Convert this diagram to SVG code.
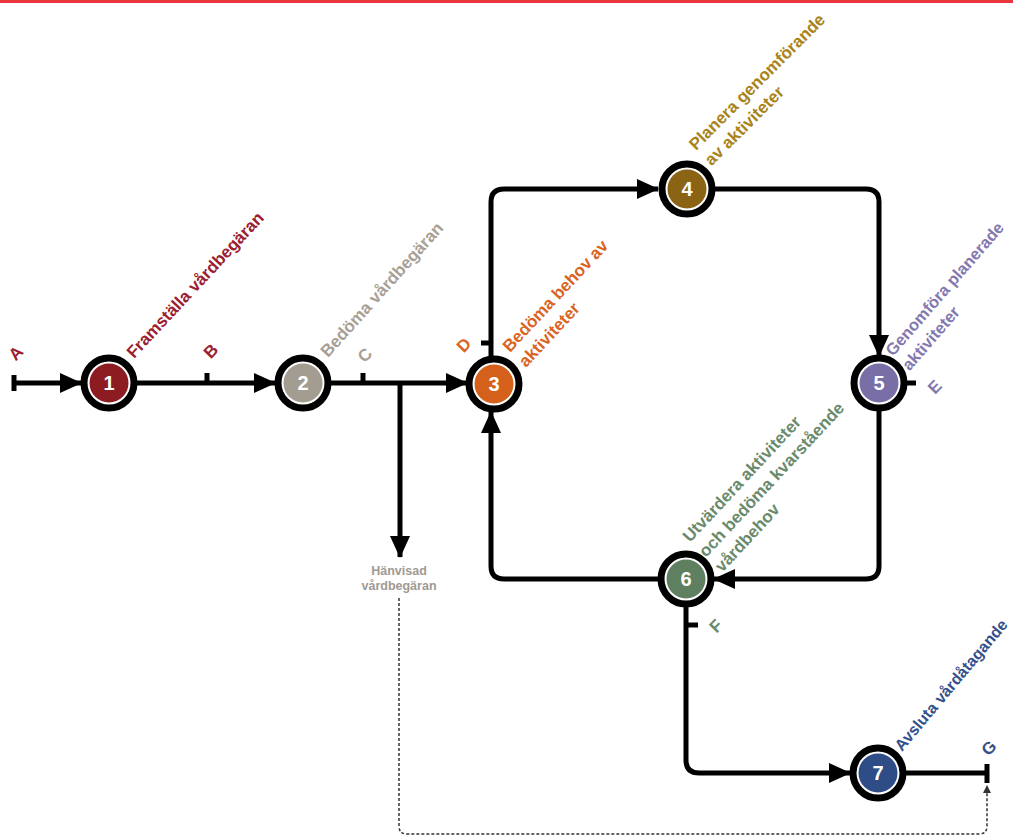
<svg xmlns="http://www.w3.org/2000/svg" width="1013" height="838" viewBox="0 0 1013 838">
<style>
.ln{fill:none;stroke:#000;stroke-width:5;stroke-linejoin:round}
.tk{fill:none;stroke:#000;stroke-width:5}
.ring{fill:#fff;stroke:#000;stroke-width:7}
.num{font-family:"Liberation Sans",Arial,sans-serif;font-weight:bold;font-size:20px;fill:#fff;text-anchor:middle}
.lab{font-family:"Liberation Sans",Arial,sans-serif;font-weight:bold;font-size:17px}
.let{font-family:"Liberation Sans",Arial,sans-serif;font-weight:bold;font-size:17px;text-anchor:middle}
.dot{fill:none;stroke:#333;stroke-width:1.5;stroke-dasharray:3 2}
</style>
<defs>
<marker id="ar" markerUnits="userSpaceOnUse" markerWidth="22" markerHeight="20" viewBox="0 0 22 20" refX="21" refY="10" orient="auto">
<path d="M0,0 L22,10 L0,20 Z" fill="#000"/>
</marker>
<marker id="ars" markerUnits="userSpaceOnUse" markerWidth="8" markerHeight="8" viewBox="0 0 8 8" refX="7" refY="4" orient="auto">
<path d="M0,0 L8,4 L0,8 Z" fill="#333"/>
</marker>
</defs>
<rect x="0" y="0" width="1013" height="3" fill="#e8363c"/>
<g id="connectors">
<path class="ln" d="M14,383 H81" marker-end="url(#ar)"/>
<path class="tk" d="M14,375 V391"/>
<path class="ln" d="M137,383 H275" marker-end="url(#ar)"/>
<path class="tk" d="M207,373 V383"/>
<path class="ln" d="M331,383 H467" marker-end="url(#ar)"/>
<path class="tk" d="M363,373 V383"/>
<path class="ln" d="M400,383 V557" marker-end="url(#ar)"/>
<path class="ln" d="M491,357 V202 Q491,189 504,189 H658" marker-end="url(#ar)"/>
<path class="tk" d="M481,343 H491"/>
<path class="ln" d="M715,189 H866 Q879,189 879,202 V356" marker-end="url(#ar)"/>
<path class="tk" d="M905,383 H916"/>
<path class="ln" d="M879,411 V566 Q879,579 866,579 H714" marker-end="url(#ar)"/>
<path class="ln" d="M658,579 H504 Q491,579 491,566 V412" marker-end="url(#ar)"/>
<path class="ln" d="M686,607 V760 Q686,773 699,773 H850" marker-end="url(#ar)"/>
<path class="tk" d="M686,625 H698"/>
<path class="ln" d="M906,773 H987"/>
<path class="tk" d="M987,764 V783"/>
<path class="dot" d="M399,598 V826 Q399,834 407,834 H979 Q987,834 987,826 V786" marker-end="url(#ars)"/>
</g>
<g id="n1"><circle class="ring" cx="109" cy="383" r="25"/><circle cx="109" cy="383" r="19.5" fill="#8c1c22"/><text class="num" x="109" y="390">1</text></g>
<g id="n2"><circle class="ring" cx="303" cy="383" r="25"/><circle cx="303" cy="383" r="19.5" fill="#a39c91"/><text class="num" x="303" y="390">2</text></g>
<g id="n3"><circle class="ring" cx="494" cy="384" r="25"/><circle cx="494" cy="384" r="19.5" fill="#d4601c"/><text class="num" x="494" y="391">3</text></g>
<g id="n4"><circle class="ring" cx="687" cy="189" r="25"/><circle cx="687" cy="189" r="19.5" fill="#8a6414"/><text class="num" x="687" y="196">4</text></g>
<g id="n5"><circle class="ring" cx="879" cy="383" r="25"/><circle cx="879" cy="383" r="19.5" fill="#7a6ea6"/><text class="num" x="879" y="390">5</text></g>
<g id="n6"><circle class="ring" cx="686" cy="579" r="25"/><circle cx="686" cy="579" r="19.5" fill="#5e7f60"/><text class="num" x="686" y="586">6</text></g>
<g id="n7"><circle class="ring" cx="878" cy="773" r="25"/><circle cx="878" cy="773" r="19.5" fill="#2e4c86"/><text class="num" x="878" y="780">7</text></g>
<g id="labels">
<text class="lab" fill="#9a2030" transform="translate(134,359) rotate(-47)">Framställa vårdbegäran</text>
<text class="lab" fill="#a8a095" transform="translate(328,358) rotate(-48)">Bedöma vårdbegäran</text>
<g fill="#d9651f" transform="translate(510,353) rotate(-47)"><text class="lab">Bedöma behov av</text><text class="lab" y="22">aktiviteter</text></g>
<g fill="#a9841a" transform="translate(696,151) rotate(-45)"><text class="lab">Planera genomförande</text><text class="lab" y="22">av aktiviteter</text></g>
<g fill="#8478b0" transform="translate(893,357) rotate(-49)"><text class="lab" style="font-size:16.5px">Genomföra planerade</text><text class="lab" y="22" style="font-size:16.5px">aktiviteter</text></g>
<g fill="#6a8a6c" transform="translate(690,543) rotate(-47)"><text class="lab">Utvärdera aktiviteter</text><text class="lab" y="22">och bedöma kvarstående</text><text class="lab" y="44">vårdbehov</text></g>
<text class="lab" fill="#34508c" style="font-size:16px" transform="translate(902,752) rotate(-50)">Avsluta vårdåtagande</text>
<text class="let" fill="#9a2030" transform="translate(20,357) rotate(-46)">A</text>
<text class="let" fill="#9a2030" transform="translate(215,355) rotate(-46)">B</text>
<text class="let" fill="#a8a095" transform="translate(369,359) rotate(-46)">C</text>
<text class="let" fill="#d9651f" transform="translate(468,349) rotate(-46)">D</text>
<text class="let" fill="#8478b0" transform="translate(939,391) rotate(-46)">E</text>
<text class="let" fill="#6a8a6c" transform="translate(720,630) rotate(-46)">F</text>
<text class="let" fill="#34508c" transform="translate(993,752) rotate(-46)">G</text>
<text font-family="Liberation Sans,Arial,sans-serif" font-weight="bold" font-size="12.5" fill="#a09a92" text-anchor="middle"><tspan x="399" y="575">Hänvisad</tspan><tspan x="399" y="590">vårdbegäran</tspan></text>
</g>
</svg>
